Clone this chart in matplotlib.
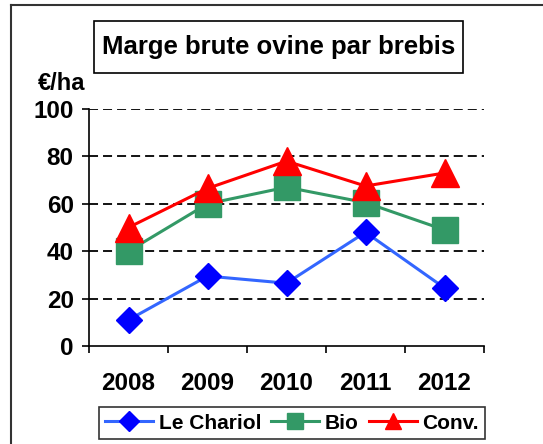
import matplotlib
matplotlib.use("Agg")
import matplotlib.pyplot as plt
from matplotlib.patches import Rectangle
from matplotlib.lines import Line2D

plt.rcParams['font.family'] = ['Liberation Sans', 'DejaVu Sans']
plt.rcParams['font.weight'] = 'bold'
plt.rcParams['lines.scale_dashes'] = False

years = ['2008', '2009', '2010', '2011', '2012']
le_chariol = [11, 29.5, 26.5, 48, 24.5]
bio = [40, 60, 67, 60.5, 49]
conv = [50, 66.5, 78, 67.5, 73]
yticks = [0, 20, 40, 60, 80, 100]

W, H = 543, 444
fig = plt.figure(figsize=(W / 100, H / 100), dpi=100)

def fx(px):
    return px / W

def fy(py):
    return 1 - py / H

ax = fig.add_axes([fx(89), fy(346), fx(484) - fx(89), fy(109) - fy(346)])
x = list(range(len(years)))

ax.plot(x, conv, color='#FF0000', lw=2.2, marker='^', ms=20, mfc='#FF0000', mec='#FF0000', label='Conv.', zorder=3)
ax.plot(x, bio, color='#339966', lw=2.2, marker='s', ms=19, mfc='#339966', mec='#339966', label='Bio', zorder=2)
ax.plot(x, le_chariol, color='#3366FF', lw=2.2, marker='D', ms=13.5, mfc='#0000FF', mec='#0000FF', label='Le Chariol', zorder=4)

ax.set_xlim(-0.5, len(years) - 0.5)
ax.set_ylim(0, 100)
ax.set_yticks(yticks)
ax.set_yticklabels([str(v) for v in yticks], fontsize=17.5, fontweight='bold')
ax.set_xticks(x)
ax.set_xticklabels(years, fontsize=17.5, fontweight='bold')
ax.set_xticks([i - 0.5 for i in range(len(years) + 1)], minor=True)
ax.tick_params(axis='x', which='major', length=0, pad=19)
ax.tick_params(axis='x', which='minor', length=5, width=1.2, direction='out')
ax.tick_params(axis='y', which='major', length=5, width=1.2, direction='out', pad=6)

for s in ['top', 'right']:
    ax.spines[s].set_visible(False)
for s in ['left', 'bottom']:
    ax.spines[s].set_linewidth(1.2)
    ax.spines[s].set_color('black')

for v in yticks[1:]:
    ax.axhline(v, color='black', lw=1.3, linestyle=(0, (6.5, 3.6)), zorder=1)

# Outer border
fig.add_artist(Line2D([fx(11), fx(11)], [fy(5), 0], transform=fig.transFigure, color='#333333', lw=1.5))
fig.add_artist(Line2D([fx(11), 1], [fy(5), fy(5)], transform=fig.transFigure, color='#333333', lw=1.5))

# Title box
fig.add_artist(Rectangle((fx(94), fy(73)), fx(463) - fx(94), fy(21) - fy(73),
                         transform=fig.transFigure, fill=False, edgecolor='black', lw=1.2))
fig.text(fx(278.5), fy(47), 'Marge brute ovine par brebis', ha='center', va='center',
         fontsize=18.5, fontweight='bold')
fig.text(fx(62), fy(83), '€/ha', ha='center', va='center', fontsize=17, fontweight='bold')

handles, labels = ax.get_legend_handles_labels()
order = [2, 1, 0]
leg_handles = []
for i in order:
    h = handles[i]
    leg_handles.append(Line2D([], [], color=h.get_color(), lw=2.2, marker=h.get_marker(),
                              ms={'^': 12, 's': 11, 'D': 10}[h.get_marker()],
                              mfc=h.get_markerfacecolor(), mec=h.get_markeredgecolor()))
leg = fig.legend(leg_handles, [labels[i] for i in order], loc='center',
                 bbox_to_anchor=(fx(97), fy(443), fx(487) - fx(97), fy(403) - fy(443)),
                 ncol=3, frameon=True, fancybox=False, edgecolor='black',
                 prop={'size': 15, 'weight': 'bold'}, handlelength=2.3,
                 handletextpad=0.25, columnspacing=0.5, borderpad=0.3)
leg.get_frame().set_linewidth(1.2)

fig.savefig('out.png', dpi=100)
